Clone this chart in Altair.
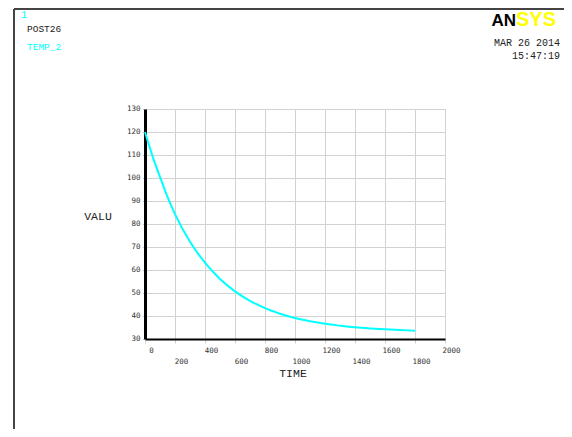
import altair as alt
import pandas as pd

# TEMP_2 vs TIME
time_vals = [0, 50, 100, 150, 200, 300, 400, 500, 600, 700, 800, 900, 1000,
             1100, 1200, 1300, 1400, 1500, 1600, 1700, 1800]
temp_vals = [120.0, 109.5, 100.5, 91.8, 84.3, 72.3, 63.2, 56.1, 50.7, 46.6, 43.4,
             41.0, 39.1, 37.7, 36.6, 35.8, 35.1, 34.6, 34.2, 33.9, 33.6]

x_ticks = list(range(0, 2001, 200))
y_ticks = list(range(30, 131, 10))

df = pd.DataFrame({"TIME": time_vals, "VALU": temp_vals})

W, H = 300, 230
grid_c = "#d2d2d2"
lab_font = "DejaVu Sans Mono"
mono = "Liberation Mono"

line = alt.Chart(df).mark_line(color="#00ffff", strokeWidth=2, interpolate="monotone").encode(
    x=alt.X("TIME:Q", scale=alt.Scale(domain=[0, 2000], nice=False),
            axis=alt.Axis(values=x_ticks, title=None, grid=True, gridColor=grid_c, format="d",
                          domainColor="black", domainWidth=2, tickColor=grid_c, tickSize=4,
                          labelFont=lab_font, labelFontSize=7.5, labelColor="#333333",
                          labelOffset=6, labelBaseline="top", labelFlush=False,
                          labelPadding={"condition": {"test": "datum.value % 400 === 200", "value": 14},
                                        "value": 3})),
    y=alt.Y("VALU:Q", scale=alt.Scale(domain=[30, 130], nice=False),
            axis=alt.Axis(values=y_ticks, title=None, grid=True, gridColor=grid_c, format="d",
                          domainColor="black", domainWidth=3, tickColor=grid_c, tickSize=3,
                          labelFont=lab_font, labelFontSize=7.5, labelColor="#333333",
                          labelPadding=2, labelFlush=False, labelOffset=-1)),
)

one = alt.Data(values=[{"a": 1}])


def txt(text, x, y, color="#222222", size=10, font=mono, align="left", weight="normal", baseline="middle"):
    return alt.Chart(one).mark_text(text=text, color=color, fontSize=size, font=font, align=align,
                                    fontWeight=weight, baseline=baseline).encode(
        x=alt.value(x), y=alt.value(y))


def rule(x, x2, y, y2):
    return alt.Chart(one).mark_rule(color="#444444", strokeWidth=2).encode(
        x=alt.value(x), x2=alt.value(x2), y=alt.value(y), y2=alt.value(y2))


layers = [
    rule(-131, -131, -100, 330),
    rule(-131, 425, -100, -100),
    line,
    txt("1", -124, -94, color="#00ffff", size=10),
    txt("POST26", -118, -80, size=9.5),
    txt("TEMP_2", -118, -62, color="#00ffff", size=9.5),
    txt("AN", 371, -83, color="black", size=17, font="Liberation Sans", align="right",
        weight="bold", baseline="alphabetic"),
    txt("SYS", 371, -83, color="#ffff00", size=20, font="Liberation Sans", align="left",
        weight="bold", baseline="alphabetic"),
    txt("MAR 26 2014", 415, -66, size=10, align="right"),
    txt("15:47:19", 415, -53, size=10, align="right"),
    txt("VALU", -47, 108, size=11.5, align="center"),
    txt("TIME", 148, 265, size=11.5, align="center"),
]

chart = alt.layer(*layers).properties(
    width=W, height=H,
    autosize=alt.AutoSizeParams(type="none"),
    padding={"left": 137, "top": 101, "right": 119, "bottom": 90},
).configure_view(stroke=None).configure(background="white")

chart.save("out.html", embed_options={"renderer": "svg", "actions": False})
